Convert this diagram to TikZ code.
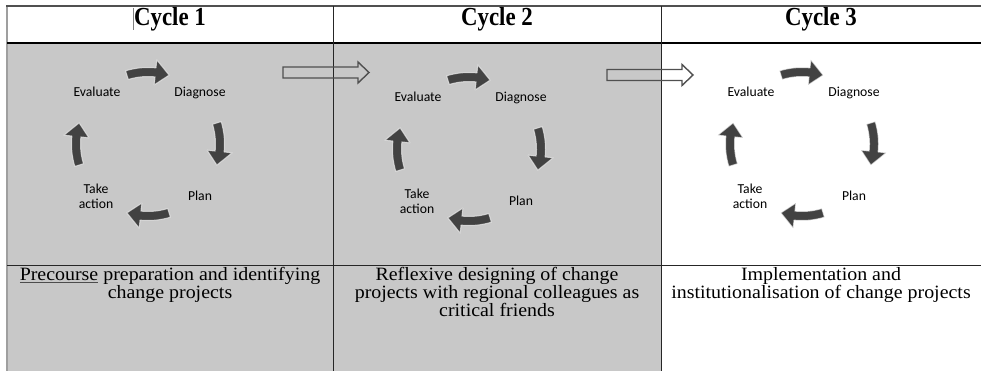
\documentclass[tikz,border=0pt]{standalone}
\usepackage{fontspec}
\setmainfont{Liberation Serif}
\newfontfamily\hdrfont[FakeStretch=0.88]{Liberation Serif}
\newfontfamily\bodyfont[FakeStretch=1.06]{Liberation Serif}
\newfontfamily\lblfont{Carlito}
\newcommand\bodysetup{\bodyfont\fontsize{18.8}{18}\selectfont\lineskiplimit=-30pt\relax}
\definecolor{cellgray}{HTML}{C8C8C8}
\definecolor{arrowdark}{HTML}{424242}
\definecolor{borderdark}{HTML}{505050}
\newcommand\cycarrow[3]{%
  \pgfmathsetmacro\ts{#3+17}%
  \pgfmathsetmacro\hb{#3-6}%
  \pgfmathsetmacro\tp{#3-17}%
  \filldraw[arrowdark, draw=white, draw opacity=0.6, line width=1pt, line join=round]
    plot[domain=\ts:\hb, samples=14] ({#1+76.5*cos(\x)},{#2-76.5*sin(\x)})
    -- ({#1+84.5*cos(\hb)},{#2-84.5*sin(\hb)})
    -- ({#1+72*cos(\tp)},{#2-72*sin(\tp)})
    -- ({#1+59.5*cos(\hb)},{#2-59.5*sin(\hb)})
    -- plot[domain=\hb:\ts, samples=14] ({#1+67.5*cos(\x)},{#2-67.5*sin(\x)})
    -- cycle;
}
\newcommand\cycleat[3]{%
  \cycarrow{#1}{#2}{90}
  \cycarrow{#1}{#2}{0}
  \cycarrow{#1}{#2}{-90}
  \cycarrow{#1}{#2}{180}
  \node[lbl, anchor=base] (e#3) at (#1-51,#2-47) {Evaluate};
  \node[lbl, anchor=base] (d#3) at (#1+52,#2-47) {Diagnose};
  \node[lbl, anchor=base] (p#3) at (#1+52,#2+57) {Plan};
  \node[lbl, anchor=center, align=center] (t#3) at (#1-52,#2+52) {Take\\action};
}
\begin{document}
\begin{tikzpicture}[x=1pt,y=-1pt,
  lbl/.style={font=\lblfont\fontsize{13.7}{15}\selectfont, inner sep=0pt},
  hdr/.style={font=\hdrfont\bfseries\fontsize{26}{28}\selectfont, inner sep=0pt, anchor=base},
  body/.style={font=\bodysetup, inner sep=0pt, anchor=north, align=center},
  blockarrow/.style={draw=borderdark, line width=1.4pt, line join=miter}]
\useasboundingbox (0,0) rectangle (981,371);
\fill[white] (0,0) rectangle (981,371);
\fill[cellgray] (7,43) rectangle (661,371);
% table lines
\draw[gray!75, line width=1.5pt] (7,6) -- (7,371);
\draw[borderdark, line width=2pt] (6.25,6.5) -- (981,6.5);
\draw[black, line width=1.2pt] (7,43) -- (981,43);
\draw[black!85, line width=1pt] (333,6) -- (333,371);
\draw[black!85, line width=1pt] (661,6) -- (661,371);
\draw[black!85, line width=1pt] (7,265) -- (981,265);
% text cursor
\draw[gray, line width=0.8pt] (133.5,8) -- (133.5,30);
% headers
\node[hdr] (h1) at (170,26) {Cycle 1};
\node[hdr] (h2) at (497,26) {Cycle 2};
\node[hdr] (h3) at (821,26) {Cycle 3};
% cycles
\cycleat{148}{144}{1}
\cycleat{469}{149}{2}
\cycleat{802}{144}{3}
% block arrows
\draw[blockarrow] (283,67) -- (358,67) -- (358,62) -- (369,72.5) -- (358,83) -- (358,78) -- (283,78) -- cycle;
\draw[blockarrow] (607,69.5) -- (682,69.5) -- (682,64.5) -- (693,75) -- (682,85.5) -- (682,80.5) -- (607,80.5) -- cycle;
% bottom texts
\node[body] (b1) at (170,267) {\textcolor{black!70}{\underline{\textcolor{black}{Precourse}}} preparation and identifying\\change projects};
\node[body] (b2) at (497,267) {Reflexive designing of change\\projects with regional colleagues as\\critical friends};
\node[body] (b3) at (821,267) {Implementation and\\institutionalisation of change projects};
\end{tikzpicture}
\end{document}
